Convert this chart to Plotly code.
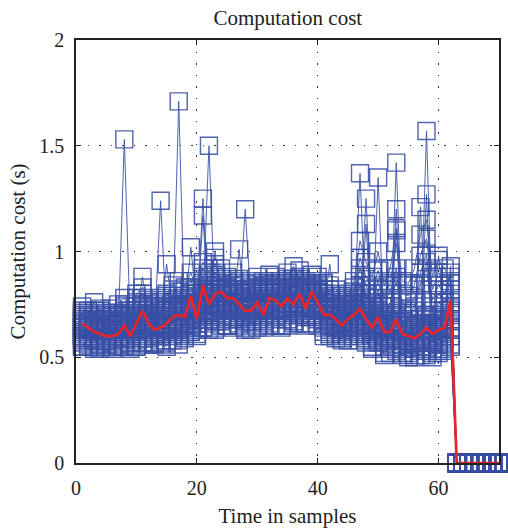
import plotly.graph_objects as go

# sample index (1..70); data recorded for samples 1..62, zero afterwards
samples = list(range(1, 71))

# mean computation cost (red), hundredths of a second, samples 1..62
mean_cost = [66, 64, 62, 61, 60, 60, 61, 65, 60, 66,
             72, 66, 63, 64, 66, 69, 70, 69, 79, 68,
             84, 75, 80, 81, 78, 78, 75, 72, 72, 76,
             70, 78, 77, 74, 78, 75, 80, 73, 81, 76,
             70, 70, 68, 65, 68, 70, 73, 68, 64, 69,
             62, 62, 68, 61, 60, 59, 61, 64, 61, 63,
             64, 77]

# individual runs (blue), hundredths of a second, samples 1..62
r1 = [55,58,54,57,56,55,58,55,57,55, 59,57,56,58,55,60,58,59,62,61, 64,66,63,67,65,68,66,64,67,65, 67,66,69,65,68,67,70,66,69,68, 62,60,61,59,60,62,58,57,55,57, 52,54,53,51,52,50,53,51,52,53, 54,55]
r2 = [60,62,59,61,58,60,62,59,61,63, 62,60,63,61,62,64,63,61,66,64, 70,68,69,72,70,71,69,68,70,72, 71,70,73,71,72,70,74,71,73,72, 66,65,64,62,63,65,64,61,60,62, 57,58,59,56,55,56,57,55,58,56, 58,60]
r3 = [64,65,63,62,64,62,63,66,62,65, 67,65,64,66,65,68,67,69,71,68, 75,73,76,74,77,75,74,72,73,75, 74,76,75,73,77,74,78,75,77,76, 70,69,68,66,67,69,71,66,64,66, 60,61,62,60,58,59,60,62,59,61, 62,64]
r4 = [68,69,66,67,65,66,68,67,64,69, 71,70,68,69,70,72,71,73,75,72, 79,77,80,78,81,79,77,76,78,79, 77,80,79,78,81,77,82,78,80,79, 74,73,71,69,72,73,75,70,67,71, 64,65,67,63,62,61,63,66,62,64, 65,70]
r5 = [72,71,70,73,68,71,70,72,69,74, 75,73,72,74,73,76,77,75,80,77, 83,81,84,82,83,84,82,80,81,83, 82,84,83,81,85,83,86,82,84,83, 78,77,75,73,76,78,80,74,71,75, 68,70,71,67,66,65,68,70,66,68, 69,76]
r6 = [57,55,58,56,59,57,55,60,56,58, 61,59,62,60,58,63,61,64,65,63, 68,71,67,70,68,69,71,67,66,69, 68,71,70,68,70,72,71,69,72,70, 64,63,66,61,62,64,66,63,58,61, 55,56,58,54,56,54,55,57,54,56, 57,60]
r7 = [61,63,60,58,62,61,59,63,60,62, 65,63,60,64,63,62,66,65,69,66, 73,70,75,73,72,76,72,70,71,73, 72,75,73,74,74,71,75,73,74,75, 68,67,65,64,65,67,70,64,62,65, 58,59,61,58,57,58,58,60,57,59, 60,63]
r8 = [66,64,65,64,63,64,66,64,63,67, 69,68,66,65,68,66,69,71,73,70, 77,75,78,77,75,78,76,74,75,77, 76,78,77,76,79,76,80,77,79,78, 72,71,70,67,69,71,73,68,66,69, 62,63,65,62,61,60,62,64,60,63, 63,67]
r9 = [70,67,68,66,67,68,65,70,66,70, 73,71,70,71,72,74,73,72,78,75, 81,79,82,80,79,81,80,78,79,81, 80,82,81,80,83,80,84,80,82,81, 76,75,73,71,74,75,77,72,69,73, 66,67,69,65,64,63,65,68,64,66, 67,73]
r10 = [55,56,55,54,55,54,56,55,54,55, 57,56,57,56,57,58,56,60,62,60, 64,63,64,65,65,64,65,63,63,64, 64,65,65,64,65,66,66,65,66,65, 60,61,59,58,58,60,61,59,54,58, 51,52,55,52,50,51,51,53,50,52, 53,56]
sp1 = [62,64,60,63,61,62,65,153,63,66, 68,66,65,67,66,69,68,70,72,71, 75,150,74,76,75,77,74,73,74,76, 75,77,76,75,78,76,79,75,78,77, 71,70,69,66,68,70,137,67,65,68, 63,64,66,62,61,60,62,157,61,63, 64,72]
sp2 = [59,61,62,60,58,61,60,62,57,63, 64,62,61,63,64,66,171,66,69,68, 125,72,75,76,74,75,73,70,72,73, 72,74,73,72,75,73,76,72,75,74, 67,69,66,64,66,67,70,65,63,135, 60,62,142,61,60,58,61,63,58,62, 63,71]
sp3 = [65,63,64,62,63,65,62,66,63,64, 67,66,64,124,65,67,66,68,71,70, 78,74,76,78,77,76,75,120,74,77, 76,78,77,76,79,77,81,76,79,78, 73,72,70,68,70,72,74,125,66,70, 64,65,120,63,62,61,121,66,62,65, 66,74]
sp4 = [60,59,58,61,60,58,61,59,60,62, 63,62,60,61,62,64,63,65,67,66, 117,70,72,73,72,73,101,69,70,71, 70,73,72,71,73,71,74,70,73,72, 66,65,64,63,64,66,68,113,61,64, 59,60,111,58,57,57,59,127,57,60, 61,68]
sp5 = [67,66,65,64,66,65,67,68,66,69, 88,69,67,69,94,72,71,72,102,73, 80,77,100,79,80,79,78,77,77,79, 78,80,79,78,80,93,81,78,80,80, 74,94,72,70,71,73,75,71,69,72, 66,68,70,67,65,64,66,69,65,98, 68,93]
m1 = [69,72,67,70,68,69,71,74,67,78, 80,74,70,73,77,79,75,78,83,76, 88,84,90,87,85,86,84,80,83,85, 84,86,85,83,87,84,88,83,86,85, 82,80,78,75,77,81,92,84,76,86, 74,82,88,76,73,78,85,95,77,84, 80,90]
m2 = [71,68,72,69,70,70,69,75,71,76, 78,76,74,76,79,82,81,79,86,80, 92,86,94,85,83,84,82,81,82,84, 83,85,84,82,86,83,87,84,85,84, 80,82,79,77,78,83,97,88,82,91, 78,85,104,80,79,84,98,106,82,90, 84,88]
m3 = [64,67,66,68,64,66,70,69,65,72, 74,70,69,72,71,75,74,77,80,74, 85,82,88,83,82,82,80,78,80,82, 81,83,82,80,84,81,85,81,83,82, 78,76,74,72,75,79,88,80,74,82, 71,76,92,73,70,74,90,99,72,80, 76,86]
m4 = [74,70,76,72,71,73,75,78,72,80, 83,77,75,78,80,84,86,83,90,82, 95,90,97,92,88,90,87,85,86,88, 86,89,88,86,90,87,91,86,89,88, 85,84,82,79,80,86,105,95,88,100, 84,92,110,86,85,92,108,115,88,96, 92,85]
m5 = [58,60,62,64,60,63,66,63,61,68, 70,66,66,68,68,72,70,74,76,72, 80,78,82,80,79,80,78,76,78,80, 78,80,80,78,82,79,83,80,81,80, 76,74,73,70,72,76,84,78,72,80, 69,74,86,71,68,72,84,92,70,76, 72,82]

runs = [r1, r2, r3, r4, r5, r6, r7, r8, r9, r10, sp1, sp2, sp3, sp4, sp5, m1, m2, m3, m4, m5]

x_ticks = [0, 20, 40, 60]
y_ticks = [0, 0.5, 1, 1.5, 2]
y_tick_labels = ["0", "0.5", "1", "1.5", "2"]

BLUE = "rgba(56,78,164,0.88)"
RED = "#e8262a"
FONT = "Liberation Serif"

def to_seconds(vals):
    full = list(vals) + [0] * (len(samples) - len(vals))
    return [v / 100.0 for v in full]

fig = go.Figure()
for run in runs:
    fig.add_trace(go.Scatter(
        x=samples, y=to_seconds(run), mode="lines+markers",
        line=dict(color=BLUE, width=1),
        marker=dict(symbol="square-open", size=17, color=BLUE, line=dict(width=1.4, color=BLUE)),
        cliponaxis=False, showlegend=False, hoverinfo="skip"))

fig.add_trace(go.Scatter(
    x=samples, y=to_seconds(mean_cost), mode="lines",
    line=dict(color=RED, width=2.7), cliponaxis=False, showlegend=False))

axis_common = dict(showline=True, linecolor="#222", linewidth=1.6, mirror="ticks",
                   ticks="inside", ticklen=5, tickcolor="#222",
                   showgrid=True, gridcolor="#333", gridwidth=1, griddash="1.5px,10px",
                   zeroline=False, tickfont=dict(family=FONT, size=20, color="#222"))

fig.update_layout(
    width=508, height=531,
    margin=dict(l=76, r=7, t=40, b=67),
    paper_bgcolor="white", plot_bgcolor="white",
    font=dict(family=FONT, color="#222"),
    title=dict(text="Computation cost", x=0.5665, xanchor="center", y=0.966, yref="container",
               yanchor="middle", font=dict(family=FONT, size=21, color="#222")),
    xaxis=dict(range=[0, 70], tickvals=x_ticks, ticklabelstandoff=6,
               title=dict(text="Time in samples", font=dict(family=FONT, size=21), standoff=11),
               **axis_common),
    yaxis=dict(range=[0, 2], tickvals=y_ticks, ticktext=y_tick_labels, ticklabelstandoff=6,
               title=dict(text="Computation cost (s)", font=dict(family=FONT, size=21), standoff=8),
               **axis_common),
)

fig.write_html("out.html")
